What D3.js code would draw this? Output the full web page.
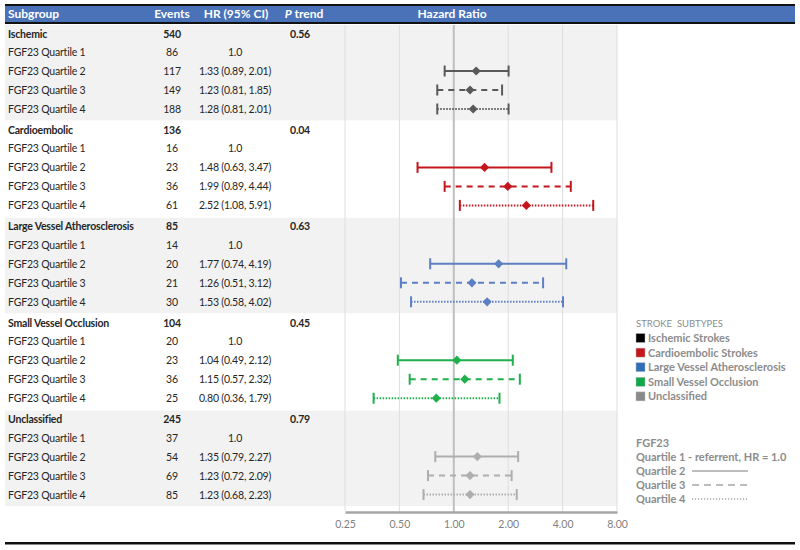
<!DOCTYPE html>
<html>
<head>
<meta charset="utf-8">
<script src="https://cdn.jsdelivr.net/npm/d3@7"></script>
<style>
  body { margin: 0; background: #fff; }
  svg { display: block; font-family: Lato, 'Open Sans', sans-serif; }
</style>
</head>
<body>
<svg id="chart" width="800" height="550"></svg>
<script>
const groups = ['Ischemic', 'Cardioembolic', 'Large Vessel Atherosclerosis', 'Small Vessel Occlusion', 'Unclassified'];
const groupEvents = [540, 136, 85, 104, 245];
const pTrend = ['0.56', '0.04', '0.63', '0.45', '0.79'];
const quartiles = ['FGF23 Quartile 1', 'FGF23 Quartile 2', 'FGF23 Quartile 3', 'FGF23 Quartile 4'];
const events = [[86, 117, 149, 188], [16, 23, 36, 61], [14, 20, 21, 30], [20, 23, 36, 25], [37, 54, 69, 85]];
const hr = [[1.0, 1.33, 1.23, 1.28], [1.0, 1.48, 1.99, 2.52], [1.0, 1.77, 1.26, 1.53], [1.0, 1.04, 1.15, 0.80], [1.0, 1.35, 1.23, 1.23]];
const ciLow = [[null, 0.89, 0.81, 0.81], [null, 0.63, 0.89, 1.08], [null, 0.74, 0.51, 0.58], [null, 0.49, 0.57, 0.36], [null, 0.79, 0.72, 0.68]];
const ciHigh = [[null, 2.01, 1.85, 2.01], [null, 3.47, 4.44, 5.91], [null, 4.19, 3.12, 4.02], [null, 2.12, 2.32, 1.79], [null, 2.27, 2.09, 2.23]];
const xTicks = [0.25, 0.5, 1, 2, 4, 8];
const legendLabels = ['Ischemic Strokes', 'Cardioembolic Strokes', 'Large Vessel Atherosclerosis', 'Small Vessel Occlusion', 'Unclassified'];
const fgfLegend = ['Quartile 2', 'Quartile 3', 'Quartile 4'];

const lineColors = ['#595959', '#c4161c', '#5b80c4', '#1fb04b', '#aeaeae'];
const legendColors = ['#000000', '#c4161c', '#2e6fb7', '#10a84a', '#8a8a8a'];
const dashes = [null, null, '6,5', '1.5,1.5'];
const legendDashes = [null, '7,5', '1.2,1.8'];

const svg = d3.select('#chart');

const x = d3.scaleLog().base(2).domain([0.25, 8]).range([345, 617]);
const yGroup = d3.scaleBand().domain(groups).range([25, 507]);
const rowOffset = [8.5, 27, 46, 65, 84];
const rowY = (g, i) => yGroup(groups[g]) + rowOffset[i];

// group shading
svg.append('g')
  .selectAll('rect')
  .data(groups)
  .join('rect')
  .attr('x', 5)
  .attr('y', d => yGroup(d))
  .attr('width', 612)
  .attr('height', yGroup.bandwidth() - 1)
  .attr('fill', (d, i) => (i % 2 === 0 ? '#f2f2f2' : '#ffffff'));

// grid lines
svg.append('g')
  .selectAll('line')
  .data(xTicks.filter(d => d !== 1))
  .join('line')
  .attr('x1', d => x(d))
  .attr('x2', d => x(d))
  .attr('y1', 25)
  .attr('y2', 511)
  .attr('stroke', '#dedede')
  .attr('stroke-width', 1);

svg.append('line')
  .attr('x1', x(1)).attr('x2', x(1))
  .attr('y1', 25).attr('y2', 512)
  .attr('stroke', '#bfbfbf')
  .attr('stroke-width', 2);

// axis
const axis = svg.append('g')
  .attr('transform', 'translate(0,512)')
  .call(d3.axisBottom(x).tickValues(xTicks).tickFormat(d3.format('.2f')).tickSize(0).tickPadding(9));
axis.select('.domain').attr('stroke', '#a6a6a6').attr('stroke-width', 2.5);
axis.selectAll('text').attr('fill', '#7f7f7f').attr('font-size', 10.5).attr('font-family', 'Lato, sans-serif');

// header
svg.append('rect').attr('x', 5).attr('y', 4).attr('width', 790).attr('height', 20).attr('fill', '#111');
svg.append('rect').attr('x', 5).attr('y', 6).attr('width', 790).attr('height', 16).attr('fill', '#4a72b9');
const header = svg.append('g').attr('fill', '#fff').attr('font-weight', 'bold').attr('font-size', 12);
header.append('text').attr('x', 8).attr('y', 18).text('Subgroup');
header.append('text').attr('x', 172).attr('y', 18).attr('text-anchor', 'middle').text('Events');
header.append('text').attr('x', 236).attr('y', 18).attr('text-anchor', 'middle').text('HR (95% CI)');
const pt = header.append('text').attr('x', 304).attr('y', 18).attr('text-anchor', 'middle');
pt.append('tspan').attr('font-style', 'italic').text('P');
pt.append('tspan').text(' trend');
header.append('text').attr('x', 452).attr('y', 18).attr('text-anchor', 'middle').text('Hazard Ratio');

// table text
const table = svg.append('g').attr('font-size', 10.5).attr('letter-spacing', -0.2).attr('fill', '#262626');
groups.forEach((g, gi) => {
  const gy = rowY(gi, 0) + 4;
  table.append('text').attr('x', 8).attr('y', gy).attr('font-weight', 'bold').text(g);
  table.append('text').attr('x', 172).attr('y', gy).attr('text-anchor', 'middle').attr('font-weight', 'bold').text(groupEvents[gi]);
  table.append('text').attr('x', 300).attr('y', gy).attr('text-anchor', 'middle').attr('font-weight', 'bold').text(pTrend[gi]);
  quartiles.forEach((q, qi) => {
    const ry = rowY(gi, qi + 1) + 4;
    table.append('text').attr('x', 8).attr('y', ry).text(q);
    table.append('text').attr('x', 172).attr('y', ry).attr('text-anchor', 'middle').text(events[gi][qi]);
    const hrText = ciLow[gi][qi] === null
      ? hr[gi][qi].toFixed(1)
      : `${hr[gi][qi].toFixed(2)} (${ciLow[gi][qi].toFixed(2)}, ${ciHigh[gi][qi].toFixed(2)})`;
    table.append('text').attr('x', 235).attr('y', ry).attr('text-anchor', 'middle').text(hrText);
  });
});

// forest marks
const marks = svg.append('g');
groups.forEach((g, gi) => {
  for (let qi = 1; qi < 4; qi++) {
    const cy = rowY(gi, qi + 1);
    const col = lineColors[gi];
    const lo = x(ciLow[gi][qi]), hi = x(ciHigh[gi][qi]);
    marks.append('line')
      .attr('x1', lo).attr('x2', hi).attr('y1', cy).attr('y2', cy)
      .attr('stroke', col).attr('stroke-width', 2)
      .attr('stroke-dasharray', dashes[qi]);
    [lo, hi].forEach(cx => {
      marks.append('line')
        .attr('x1', cx).attr('x2', cx).attr('y1', cy - 5.5).attr('y2', cy + 5.5)
        .attr('stroke', col).attr('stroke-width', 2);
    });
    marks.append('path')
      .attr('d', d3.symbol(d3.symbolSquare, 42)())
      .attr('transform', `translate(${x(hr[gi][qi])},${cy}) rotate(45)`)
      .attr('fill', col);
  }
});

// legend: stroke subtypes
const leg = svg.append('g').attr('font-size', 11).attr('fill', '#8c8c8c');
leg.append('text').attr('x', 636).attr('y', 327).attr('font-size', 9.5).text('STROKE  SUBTYPES').style('white-space', 'pre');
legendLabels.forEach((l, i) => {
  const ly = 338 + i * 14.6;
  leg.append('rect').attr('x', 636).attr('y', ly - 4.5).attr('width', 9).attr('height', 9)
    .attr('fill', legendColors[i]).attr('stroke', '#bbb').attr('stroke-width', 0.5);
  leg.append('text').attr('x', 648).attr('y', ly + 4).attr('font-weight', 'bold').text(l);
});

// legend: FGF23
const leg2 = svg.append('g').attr('font-size', 11).attr('fill', '#8c8c8c').attr('font-weight', 'bold');
leg2.append('text').attr('x', 636).attr('y', 447).text('FGF23');
leg2.append('text').attr('x', 636).attr('y', 461).text('Quartile 1 - referrent, HR = 1.0');
fgfLegend.forEach((l, i) => {
  const ly = 475 + i * 14;
  leg2.append('text').attr('x', 636).attr('y', ly).text(l);
  leg2.append('line')
    .attr('x1', 692).attr('x2', 748).attr('y1', ly - 4).attr('y2', ly - 4)
    .attr('stroke', '#a6a6a6').attr('stroke-width', 1.5)
    .attr('stroke-dasharray', legendDashes[i]);
});

// bottom rule
svg.append('rect').attr('x', 5).attr('y', 542).attr('width', 790).attr('height', 2.5).attr('fill', '#111');
</script>
</body>
</html>
